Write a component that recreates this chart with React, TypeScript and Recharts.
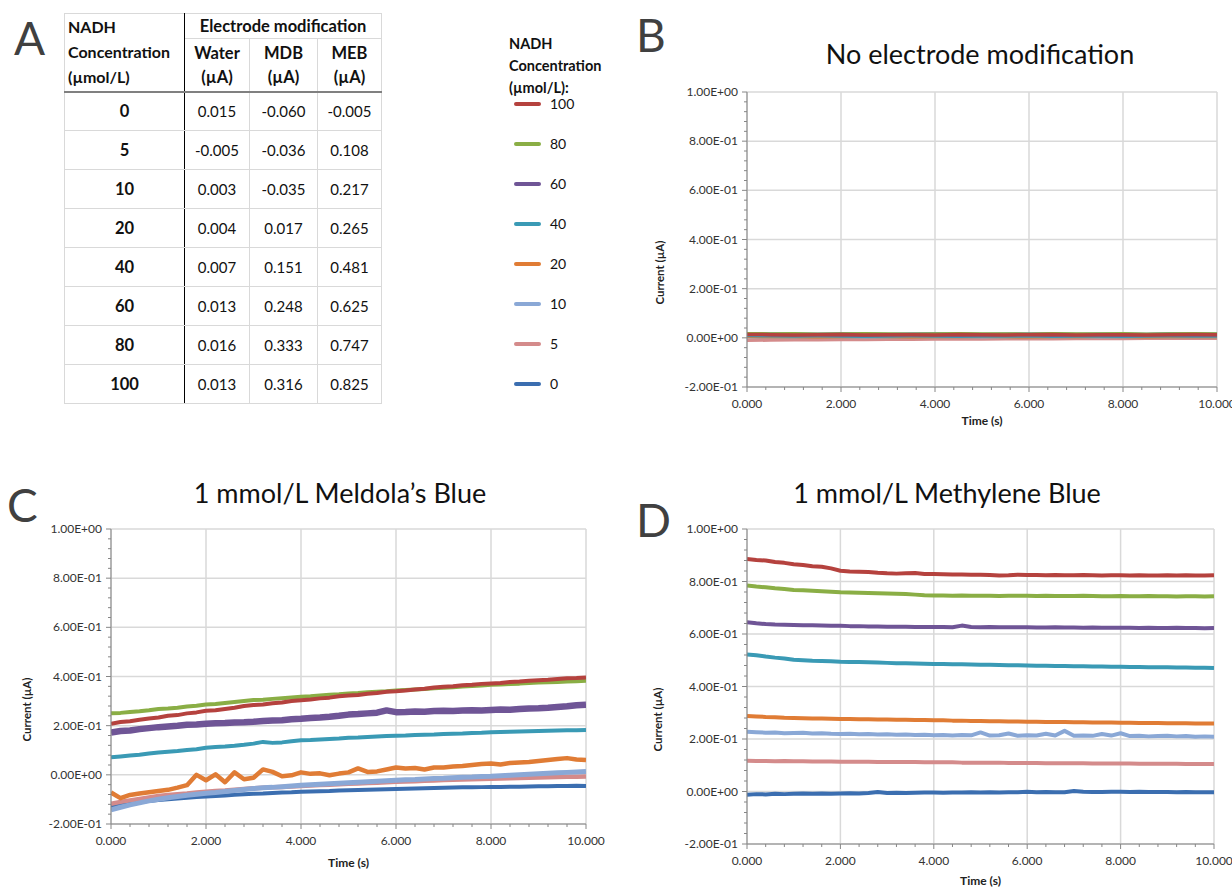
import { LineChart, Line, XAxis, YAxis, CartesianGrid } from "recharts"

const FONT = "Lato, 'Noto Sans', sans-serif"

// ---- table (panel A) ----
const tableConc = ["0", "5", "10", "20", "40", "60", "80", "100"]
const waterVals = ["0.015", "-0.005", "0.003", "0.004", "0.007", "0.013", "0.016", "0.013"]
const mdbVals = ["-0.060", "-0.036", "-0.035", "0.017", "0.151", "0.248", "0.333", "0.316"]
const mebVals = ["-0.005", "0.108", "0.217", "0.265", "0.481", "0.625", "0.747", "0.825"]

// ---- series / legend ----
const legendConc = ["100", "80", "60", "40", "20", "10", "5", "0"]
const seriesColors = ["#b5423e", "#8aae45", "#6f5596", "#3a9ab5", "#e07c35", "#8aa8d6", "#d48b8b", "#3b6eb0"]

// ---- axis ticks ----
const xTicks = [0, 0.4, 0.8, 1.2, 1.6, 2, 2.4, 2.8, 3.2, 3.6, 4, 4.4, 4.8, 5.2, 5.6, 6, 6.4, 6.8, 7.2, 7.6, 8, 8.4, 8.8, 9.2, 9.6, 10]
const xMajor = [0, 2, 4, 6, 8, 10]
const yTicks = [-0.2, -0.16, -0.12, -0.08, -0.04, 0, 0.04, 0.08, 0.12, 0.16, 0.2, 0.24, 0.28, 0.32, 0.36, 0.4, 0.44, 0.48, 0.52, 0.56, 0.6, 0.64, 0.68, 0.72, 0.76, 0.8, 0.84, 0.88, 0.92, 0.96, 1]
const yMajor = [-0.2, 0, 0.2, 0.4, 0.6, 0.8, 1]

// ---- time bases ----
const tCoarse = [0, 0.5, 1, 1.5, 2, 2.5, 3, 3.5, 4, 4.5, 5, 5.5, 6, 6.5, 7, 7.5, 8, 8.5, 9, 9.5, 10]
const tFine = [0, 0.2, 0.4, 0.6, 0.8, 1, 1.2, 1.4, 1.6, 1.8, 2, 2.2, 2.4, 2.6, 2.8, 3, 3.2, 3.4, 3.6, 3.8, 4, 4.2, 4.4, 4.6, 4.8, 5, 5.2, 5.4, 5.6, 5.8, 6, 6.2, 6.4, 6.6, 6.8, 7, 7.2, 7.4, 7.6, 7.8, 8, 8.2, 8.4, 8.6, 8.8, 9, 9.2, 9.4, 9.6, 9.8, 10]

// ---- B: no modification (water) ----
const water100 = [0.014, 0.013, 0.012, 0.013, 0.014, 0.012, 0.013, 0.013, 0.012, 0.014, 0.013, 0.012, 0.013, 0.014, 0.012, 0.013, 0.013, 0.012, 0.013, 0.014, 0.013]
const water80 = [0.017, 0.016, 0.017, 0.015, 0.016, 0.017, 0.016, 0.015, 0.016, 0.017, 0.016, 0.016, 0.015, 0.017, 0.016, 0.016, 0.017, 0.015, 0.016, 0.017, 0.016]
const water60 = [0.015, 0.014, 0.013, 0.014, 0.013, 0.012, 0.013, 0.014, 0.013, 0.012, 0.013, 0.013, 0.014, 0.012, 0.013, 0.013, 0.012, 0.013, 0.014, 0.013, 0.013]
const water40 = [0.009, 0.008, 0.007, 0.008, 0.007, 0.006, 0.007, 0.008, 0.007, 0.006, 0.007, 0.007, 0.008, 0.006, 0.007, 0.007, 0.006, 0.007, 0.008, 0.007, 0.007]
const water20 = [0.005, 0.004, 0.004, 0.003, 0.004, 0.005, 0.004, 0.003, 0.004, 0.004, 0.005, 0.004, 0.003, 0.004, 0.004, 0.005, 0.004, 0.003, 0.004, 0.004, 0.004]
const water10 = [0.004, 0.003, 0.002, 0.003, 0.004, 0.003, 0.002, 0.003, 0.003, 0.004, 0.003, 0.002, 0.003, 0.003, 0.004, 0.003, 0.002, 0.003, 0.003, 0.004, 0.003]
const water5 = [-0.01, -0.009, -0.008, -0.008, -0.007, -0.007, -0.006, -0.006, -0.005, -0.005, -0.005, -0.004, -0.004, -0.004, -0.003, -0.003, -0.003, -0.002, -0.002, -0.002, -0.002]
const water0 = [0.016, 0.015, 0.015, 0.014, 0.016, 0.015, 0.014, 0.015, 0.016, 0.015, 0.014, 0.015, 0.015, 0.016, 0.014, 0.015, 0.015, 0.014, 0.016, 0.015, 0.015]

// ---- C: Meldola's blue ----
const mdb100 = [0.208, 0.215, 0.218, 0.224, 0.229, 0.233, 0.24, 0.243, 0.25, 0.254,
  0.261, 0.263, 0.268, 0.273, 0.28, 0.284, 0.286, 0.291, 0.294, 0.3,
  0.303, 0.306, 0.311, 0.314, 0.32, 0.323, 0.325, 0.33, 0.333, 0.338,
  0.34, 0.343, 0.347, 0.35, 0.355, 0.358, 0.36, 0.364, 0.366, 0.37,
  0.372, 0.374, 0.378, 0.38, 0.383, 0.385, 0.387, 0.39, 0.393, 0.394, 0.396]
const mdb80 = [0.25, 0.252, 0.256, 0.259, 0.263, 0.268, 0.27, 0.273, 0.278, 0.281,
  0.286, 0.288, 0.292, 0.296, 0.3, 0.304, 0.305, 0.309, 0.312, 0.315,
  0.318, 0.32, 0.323, 0.326, 0.328, 0.331, 0.333, 0.336, 0.338, 0.34,
  0.343, 0.345, 0.347, 0.349, 0.352, 0.354, 0.356, 0.359, 0.361, 0.363,
  0.366, 0.367, 0.369, 0.371, 0.374, 0.376, 0.377, 0.378, 0.38, 0.381, 0.383]
const mdb60 = [0.172, 0.178, 0.18, 0.186, 0.19, 0.194, 0.197, 0.2, 0.204, 0.205,
  0.208, 0.21, 0.211, 0.213, 0.214, 0.216, 0.219, 0.221, 0.222, 0.226,
  0.228, 0.231, 0.233, 0.236, 0.24, 0.245, 0.247, 0.25, 0.253, 0.262,
  0.255, 0.256, 0.258, 0.257, 0.26, 0.261, 0.26, 0.262, 0.263, 0.262,
  0.264, 0.266, 0.265, 0.268, 0.27, 0.271, 0.273, 0.276, 0.279, 0.283, 0.285]
const mdb40 = [0.071, 0.075, 0.079, 0.082, 0.087, 0.091, 0.094, 0.097, 0.101, 0.104,
  0.11, 0.113, 0.115, 0.118, 0.122, 0.127, 0.134, 0.13, 0.132, 0.137,
  0.141, 0.142, 0.144, 0.146, 0.148, 0.151, 0.152, 0.154, 0.156, 0.158,
  0.159, 0.16, 0.162, 0.163, 0.164, 0.166, 0.167, 0.168, 0.17, 0.171,
  0.173, 0.174, 0.175, 0.176, 0.177, 0.178, 0.179, 0.18, 0.181, 0.181, 0.182]
const mdb20 = [-0.072, -0.095, -0.082, -0.076, -0.071, -0.066, -0.061, -0.052, -0.042, 0.0,
  -0.022, 0.002, -0.03, 0.01, -0.018, -0.012, 0.022, 0.012, -0.006, -0.002,
  0.01, 0.004, 0.006, -0.002, 0.005, 0.01, 0.026, 0.012, 0.014, 0.022,
  0.03, 0.026, 0.028, 0.022, 0.03, 0.03, 0.034, 0.036, 0.04, 0.044,
  0.046, 0.042, 0.048, 0.05, 0.052, 0.056, 0.06, 0.064, 0.068, 0.062, 0.06]
const mdb10 = [-0.142, -0.132, -0.122, -0.114, -0.106, -0.099, -0.093, -0.088, -0.083, -0.079,
  -0.075, -0.072, -0.068, -0.064, -0.06, -0.056, -0.053, -0.051, -0.048, -0.045,
  -0.042, -0.04, -0.038, -0.036, -0.034, -0.032, -0.03, -0.028, -0.026, -0.024,
  -0.022, -0.02, -0.019, -0.017, -0.015, -0.014, -0.012, -0.01, -0.009, -0.007,
  -0.006, -0.004, -0.002, 0.0, 0.002, 0.004, 0.006, 0.008, 0.01, 0.012, 0.014]
const mdb5 = [-0.118, -0.11, -0.104, -0.098, -0.092, -0.086, -0.082, -0.079, -0.076, -0.072,
  -0.069, -0.066, -0.064, -0.061, -0.058, -0.055, -0.053, -0.051, -0.049, -0.047,
  -0.045, -0.043, -0.041, -0.04, -0.038, -0.036, -0.035, -0.033, -0.032, -0.03,
  -0.028, -0.027, -0.026, -0.024, -0.023, -0.021, -0.02, -0.019, -0.018, -0.017,
  -0.016, -0.015, -0.014, -0.013, -0.012, -0.011, -0.01, -0.009, -0.008, -0.008, -0.007]
const mdb0 = [-0.128, -0.122, -0.117, -0.112, -0.106, -0.102, -0.099, -0.096, -0.093, -0.09,
  -0.088, -0.086, -0.084, -0.081, -0.079, -0.077, -0.076, -0.074, -0.072, -0.071,
  -0.069, -0.068, -0.067, -0.066, -0.064, -0.063, -0.062, -0.061, -0.06, -0.059,
  -0.058, -0.057, -0.056, -0.055, -0.054, -0.053, -0.052, -0.051, -0.051, -0.05,
  -0.049, -0.049, -0.048, -0.048, -0.047, -0.046, -0.046, -0.045, -0.045, -0.044, -0.045]

// ---- D: methylene blue ----
const meb100 = [0.886, 0.882, 0.88, 0.874, 0.871, 0.866, 0.863, 0.858, 0.856, 0.85,
  0.841, 0.838, 0.837, 0.836, 0.833, 0.831, 0.83, 0.831, 0.832, 0.829,
  0.829, 0.828, 0.827, 0.827, 0.826, 0.826, 0.825, 0.823, 0.824, 0.826,
  0.825, 0.825, 0.824, 0.825, 0.824, 0.824, 0.825, 0.824, 0.823, 0.824,
  0.824, 0.823, 0.824, 0.823, 0.823, 0.824, 0.823, 0.824, 0.823, 0.823, 0.824]
const meb80 = [0.785, 0.781, 0.778, 0.774, 0.771, 0.768, 0.767, 0.765, 0.763, 0.761,
  0.759, 0.758, 0.757, 0.756, 0.755, 0.754, 0.753, 0.752, 0.75, 0.748,
  0.747, 0.747, 0.746, 0.747, 0.746, 0.746, 0.746, 0.745, 0.746, 0.746,
  0.746, 0.745, 0.746, 0.745, 0.745, 0.745, 0.746, 0.745, 0.744, 0.744,
  0.745, 0.744, 0.744, 0.745, 0.744, 0.744, 0.743, 0.744, 0.744, 0.743, 0.744]
const meb60 = [0.645, 0.641, 0.638, 0.636, 0.635, 0.634, 0.633, 0.633, 0.632, 0.631,
  0.631, 0.63, 0.63, 0.629, 0.629, 0.628, 0.628, 0.628, 0.627, 0.627,
  0.627, 0.627, 0.626, 0.632, 0.627, 0.626, 0.627, 0.626, 0.626, 0.626,
  0.626, 0.625, 0.625, 0.626, 0.625, 0.625, 0.624, 0.625, 0.624, 0.624,
  0.624, 0.624, 0.623, 0.624, 0.623, 0.623, 0.624, 0.623, 0.623, 0.622, 0.623]
const meb40 = [0.522, 0.519, 0.514, 0.51, 0.507, 0.502, 0.5, 0.498, 0.497, 0.496,
  0.494, 0.493, 0.493, 0.492, 0.491, 0.49, 0.489, 0.489, 0.488, 0.487,
  0.486, 0.486, 0.485, 0.485, 0.484, 0.483, 0.483, 0.482, 0.481, 0.481,
  0.48, 0.479, 0.479, 0.478, 0.478, 0.477, 0.477, 0.476, 0.476, 0.475,
  0.475, 0.474, 0.474, 0.473, 0.473, 0.473, 0.472, 0.472, 0.471, 0.471, 0.47]
const meb20 = [0.288, 0.286, 0.284, 0.283, 0.281, 0.28, 0.279, 0.278, 0.278, 0.277,
  0.276, 0.276, 0.275, 0.275, 0.274, 0.274, 0.273, 0.273, 0.272, 0.272,
  0.271, 0.271, 0.27, 0.27, 0.269, 0.269, 0.268, 0.268, 0.267, 0.267,
  0.266, 0.266, 0.265, 0.265, 0.265, 0.264, 0.264, 0.263, 0.263, 0.263,
  0.262, 0.262, 0.261, 0.261, 0.261, 0.26, 0.26, 0.26, 0.259, 0.259, 0.259]
const meb10 = [0.228, 0.226, 0.224, 0.225, 0.222, 0.223, 0.224, 0.221, 0.222, 0.22,
  0.219, 0.22, 0.218, 0.219, 0.217, 0.218, 0.216, 0.217, 0.215, 0.216,
  0.214, 0.215, 0.213, 0.215, 0.214, 0.225, 0.213, 0.214, 0.221, 0.212,
  0.214, 0.213, 0.22, 0.213, 0.231, 0.212, 0.213, 0.212, 0.219, 0.213,
  0.222, 0.211, 0.212, 0.21, 0.211, 0.212, 0.21, 0.211, 0.209, 0.21, 0.209]
const meb5 = [0.117, 0.116, 0.116, 0.115, 0.116, 0.115, 0.115, 0.114, 0.114, 0.114,
  0.113, 0.113, 0.113, 0.113, 0.112, 0.112, 0.112, 0.112, 0.112, 0.111,
  0.111, 0.111, 0.111, 0.11, 0.11, 0.11, 0.11, 0.11, 0.109, 0.109,
  0.109, 0.109, 0.108, 0.108, 0.108, 0.108, 0.108, 0.107, 0.107, 0.107,
  0.107, 0.107, 0.106, 0.106, 0.106, 0.106, 0.106, 0.105, 0.105, 0.105, 0.105]
const meb0 = [-0.012, -0.01, -0.011, -0.009, -0.01, -0.009, -0.008, -0.009, -0.008, -0.009,
  -0.008, -0.007, -0.008, -0.006, -0.002, -0.006, -0.005, -0.006, -0.005, -0.004,
  -0.004, -0.005, -0.004, -0.004, -0.003, -0.004, -0.003, -0.004, -0.003, -0.003,
  -0.001, -0.003, -0.002, -0.003, -0.003, 0.002, -0.001, -0.002, -0.002, -0.001,
  -0.001, -0.002, -0.001, -0.002, -0.002, -0.002, -0.003, -0.002, -0.003, -0.003, -0.003]

const isMajor = (v: number, step: number) => Math.abs(v / step - Math.round(v / step)) < 1e-6

const fmtE = (v: number) => {
  const [m, e] = v.toExponential(2).split("e")
  const n = parseInt(e, 10)
  return `${m}E${n < 0 ? "-" : "+"}${String(Math.abs(n)).padStart(2, "0")}`
}

function XTick(props: any) {
  const { x, y, payload } = props
  const major = isMajor(payload.value, 2)
  return (
    <g>
      <line x1={x} x2={x} y1={y} y2={y + (major ? 5 : 3)} stroke="#868686" />
      {major && (
        <text x={x} y={y + 21} textAnchor="middle" fontSize={12} fill="#333" fontFamily={FONT}>
          {payload.value.toFixed(3)}
        </text>
      )}
    </g>
  )
}

function YTick(props: any) {
  const { x, y, payload } = props
  const major = isMajor(payload.value, 0.2)
  return (
    <g>
      <line x1={x - (major ? 5 : 3)} x2={x} y1={y} y2={y} stroke="#868686" />
      {major && (
        <text x={x - 9} y={y + 4} textAnchor="end" fontSize={12} fill="#333" fontFamily={FONT}>
          {fmtE(payload.value)}
        </text>
      )}
    </g>
  )
}

// y-axis title sits a little below the plot centre, as in the source figure
function YTitle(props: any) {
  const vb = props.viewBox || {}
  const cx = vb.x + 12
  const cy = vb.y + vb.height / 2 + 33
  return (
    <text
      x={cx}
      y={cy}
      transform={`rotate(-90, ${cx}, ${cy})`}
      textAnchor="middle"
      dominantBaseline="central"
      fontSize={11.5}
      fontWeight={700}
      fill="#222"
      fontFamily={FONT}
    >
      Current (µA)
    </text>
  )
}

type Trace = { key: string; values: number[]; color: string; width?: number }

function TraceChart(props: {
  time: number[]
  traces: Trace[]
  width: number
  height: number
  margin: { top: number; right: number; bottom: number; left: number }
  yWidth: number
  xHeight: number
}) {
  const { time, traces, width, height, margin, yWidth, xHeight } = props
  const rows = time.map((t, i) => {
    const row: Record<string, number> = { t }
    traces.forEach((s) => {
      row[s.key] = s.values[i]
    })
    return row
  })
  return (
    <LineChart width={width} height={height} data={rows} margin={margin}>
      <CartesianGrid stroke="#d9d9d9" strokeWidth={1.5} horizontalValues={yMajor} verticalValues={xMajor} />
      <XAxis
        dataKey="t"
        type="number"
        domain={[0, 10]}
        ticks={xTicks}
        interval={0}
        tickSize={0}
        tickMargin={0}
        tickLine={false}
        tick={(p: any) => <XTick {...p} />}
        height={xHeight}
        stroke="#868686"
        allowDataOverflow
        label={{ value: "Time (s)", position: "insideBottom", offset: 2, fontSize: 12, fontWeight: 700, fill: "#222", fontFamily: FONT }}
      />
      <YAxis
        type="number"
        domain={[-0.2, 1]}
        ticks={yTicks}
        interval={0}
        tickSize={0}
        tickMargin={0}
        tickLine={false}
        tick={(p: any) => <YTick {...p} />}
        width={yWidth}
        stroke="#868686"
        allowDataOverflow
        label={(p: any) => <YTitle {...p} />}
      />
      {traces.map((s) => (
        <Line
          key={s.key}
          dataKey={s.key}
          type="linear"
          stroke={s.color}
          strokeWidth={s.width ?? 4}
          strokeLinejoin="round"
          dot={false}
          isAnimationActive={false}
        />
      ))}
    </LineChart>
  )
}

// draw order: 0 first, 100 last
const makeTraces = (vals: number[][], widths?: number[]): Trace[] =>
  legendConc
    .map((c, i) => ({ key: "c" + c, values: vals[i], color: seriesColors[i], width: widths?.[i] }))
    .reverse()

const waterTraces = makeTraces([water100, water80, water60, water40, water20, water10, water5, water0], [3.5, 3.5, 3.5, 3.5, 3.5, 3.5, 3.5, 3.5])
const mdbTraces = makeTraces([mdb100, mdb80, mdb60, mdb40, mdb20, mdb10, mdb5, mdb0], [4, 4, 6.5, 4, 4.5, 5, 4.5, 4])
const mebTraces = makeTraces([meb100, meb80, meb60, meb40, meb20, meb10, meb5, meb0])

const cellBorder = "1px solid #d9d9d9"

function DataTable() {
  const th: React.CSSProperties = { fontWeight: 700, fontSize: 16.5, textAlign: "center", padding: 0, border: cellBorder }
  const td: React.CSSProperties = { textAlign: "center", border: cellBorder, padding: 0 }
  return (
    <table
      style={{
        position: "absolute",
        left: 64,
        top: 13,
        borderCollapse: "collapse",
        fontFamily: FONT,
        fontSize: 15,
        color: "#111",
        tableLayout: "fixed",
      }}
    >
      <colgroup>
        <col style={{ width: 120 }} />
        <col style={{ width: 65 }} />
        <col style={{ width: 68 }} />
        <col style={{ width: 64 }} />
      </colgroup>
      <tbody>
        <tr style={{ height: 24 }}>
          <td
            rowSpan={2}
            style={{
              fontWeight: 700,
              fontSize: 16,
              verticalAlign: "top",
              padding: "0 0 0 3px",
              lineHeight: "25px",
              border: cellBorder,
              borderRight: "1.5px solid #000",
              borderBottom: "2px solid #808080",
              whiteSpace: "nowrap",
            }}
          >
            NADH
            <br />
            Concentration
            <br />
            (µmol/L)
          </td>
          <td colSpan={3} style={{ ...th, lineHeight: "24px", whiteSpace: "nowrap" }}>
            Electrode modification
          </td>
        </tr>
        <tr style={{ height: 53 }}>
          {["Water", "MDB", "MEB"].map((h) => (
            <td key={h} style={{ ...th, lineHeight: "24px", borderBottom: "2px solid #808080" }}>
              {h}
              <br />
              (µA)
            </td>
          ))}
        </tr>
        {tableConc.map((c, i) => (
          <tr key={c} style={{ height: 39 }}>
            <td style={{ ...th, borderRight: "1.5px solid #000" }}>{c}</td>
            <td style={td}>{waterVals[i]}</td>
            <td style={td}>{mdbVals[i]}</td>
            <td style={td}>{mebVals[i]}</td>
          </tr>
        ))}
      </tbody>
    </table>
  )
}

function SeriesLegend() {
  return (
    <div style={{ position: "absolute", left: 509, top: 33, fontFamily: FONT, color: "#111" }}>
      <div style={{ fontWeight: 700, fontSize: 14.5, lineHeight: "22px", whiteSpace: "nowrap" }}>
        NADH
        <br />
        Concentration
        <br />
        (µmol/L):
      </div>
      {legendConc.map((c, i) => (
        <div key={c} style={{ position: "absolute", left: 0, top: 61 + i * 40, height: 20, width: 80 }}>
          <div style={{ position: "absolute", left: 5, top: 8, width: 27, height: 4, borderRadius: 2, background: seriesColors[i] }} />
          <div style={{ position: "absolute", left: 41, top: 0, fontSize: 14, lineHeight: "20px" }}>{c}</div>
        </div>
      ))}
    </div>
  )
}

const letterStyle: React.CSSProperties = {
  position: "absolute",
  fontFamily: FONT,
  fontSize: 46,
  lineHeight: "46px",
  color: "#404040",
}

const titleStyle: React.CSSProperties = {
  position: "absolute",
  width: 400,
  textAlign: "center",
  fontFamily: FONT,
  fontSize: 27,
  lineHeight: "27px",
  color: "#111",
}

export default function App() {
  return (
    <div style={{ position: "absolute", left: 0, top: 0, width: 1232, height: 887, background: "#fff", overflow: "hidden" }}>
      <div style={{ ...letterStyle, left: 14, top: 15 }}>A</div>
      <div style={{ ...letterStyle, left: 636, top: 12 }}>B</div>
      <div style={{ ...letterStyle, left: 7, top: 482 }}>C</div>
      <div style={{ ...letterStyle, left: 636, top: 497 }}>D</div>

      <DataTable />
      <SeriesLegend />

      <div style={{ ...titleStyle, left: 780, top: 40 }}>No electrode modification</div>
      <div style={{ ...titleStyle, left: 140, top: 479 }}>1 mmol/L Meldola’s Blue</div>
      <div style={{ ...titleStyle, left: 747, top: 479 }}>1 mmol/L Methylene Blue</div>

      <div style={{ position: "absolute", left: 630, top: 70 }}>
        <TraceChart
          time={tCoarse}
          traces={waterTraces}
          width={602}
          height={370}
          margin={{ top: 22, right: 15, bottom: 13, left: 17 }}
          yWidth={100}
          xHeight={40}
        />
      </div>
      <div style={{ position: "absolute", left: 0, top: 500 }}>
        <TraceChart
          time={tFine}
          traces={mdbTraces}
          width={620}
          height={387}
          margin={{ top: 29, right: 34, bottom: 18, left: 14 }}
          yWidth={97}
          xHeight={45}
        />
      </div>
      <div style={{ position: "absolute", left: 630, top: 500 }}>
        <TraceChart
          time={tFine}
          traces={mebTraces}
          width={602}
          height={387}
          margin={{ top: 29, right: 18, bottom: 0, left: 15 }}
          yWidth={102}
          xHeight={43}
        />
      </div>
    </div>
  )
}
